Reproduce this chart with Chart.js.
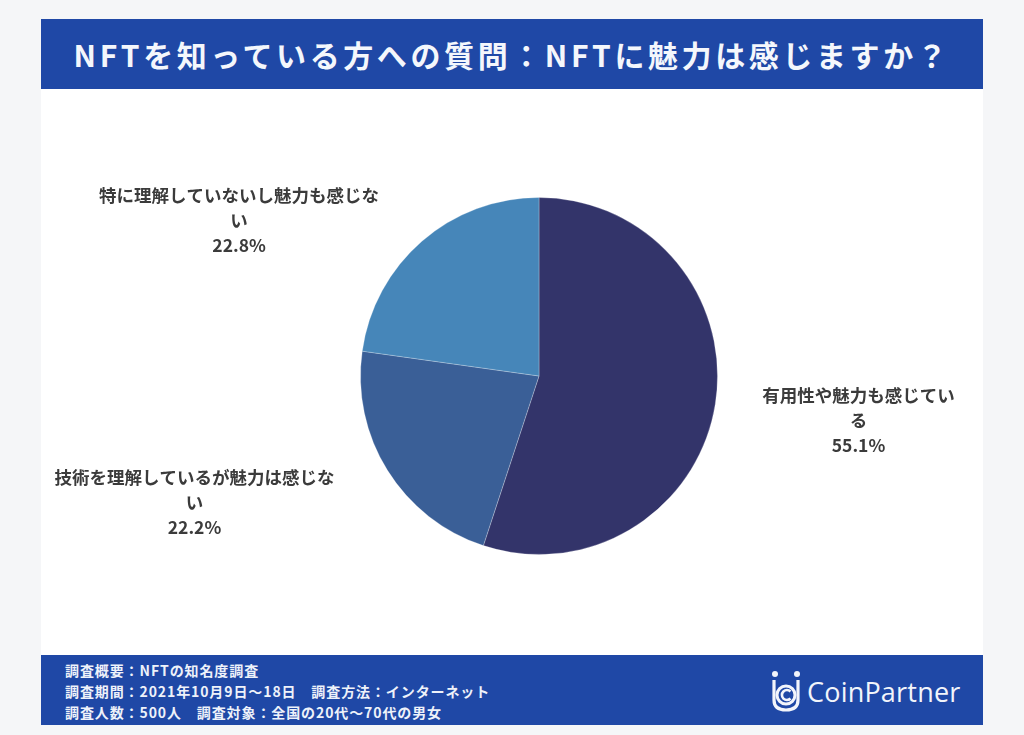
<!DOCTYPE html>
<html lang="ja">
<head>
<meta charset="utf-8">
<script src="https://cdn.jsdelivr.net/npm/chart.js@4/dist/chart.umd.min.js"></script>
<style>
  html, body { margin: 0; padding: 0; }
  body { width: 1024px; height: 735px; background: #f5f6f8; position: relative; overflow: hidden;
         font-family: "Noto Sans CJK JP", "Noto Sans", sans-serif; }
  #card { position: absolute; left: 41px; top: 19px; width: 942px; height: 706px; background: #ffffff; }
  #title { position: absolute; left: 0; top: 0; width: 942px; height: 70px; background: #1f48a6;
           color: #f4f7fc; font-weight: bold; font-size: 30px; letter-spacing: 3.6px;
           line-height: 70px; text-align: center; white-space: nowrap; }
  #chartBox { position: absolute; left: 0; top: 70px; width: 942px; height: 566px; }
  #footer { position: absolute; left: 0; top: 636px; width: 942px; height: 70px; background: #1f48a6; color: #eef2fa; }
  #notes { position: absolute; left: 24px; top: 5px; font-size: 14px; font-weight: bold; letter-spacing: 0.9px; line-height: 21px; white-space: pre; }
  #logo { position: absolute; left: 730px; top: 14px; height: 44px; display: flex; align-items: center; }
  #logo span { font-family: "Open Sans", "Noto Sans", sans-serif; font-size: 27px; color: #f2f5fb; margin-left: 6px; letter-spacing: 0.2px; }
</style>
</head>
<body>
<div id="card">
  <div id="title">NFTを知っている方への質問：NFTに魅力は感じますか？</div>
  <div id="chartBox"><canvas id="c" width="942" height="566"></canvas></div>
  <div id="footer">
    <div id="notes">調査概要：NFTの知名度調査
調査期間：2021年10月9日～18日　調査方法：インターネット
調査人数：500人　調査対象：全国の20代～70代の男女</div>
    <div id="logo">
      <svg width="30" height="42" viewBox="0 0 30 42">
        <circle cx="4" cy="4" r="3" fill="#f2f5fb"/>
        <circle cx="26" cy="4" r="3" fill="#f2f5fb"/>
        <path d="M3 10 L3 30 Q3 40 15 40 Q27 40 27 30 L27 10" fill="none" stroke="#f2f5fb" stroke-width="3.2"/>
        <circle cx="15" cy="25" r="9" fill="none" stroke="#f2f5fb" stroke-width="3"/>
        <path d="M19.5 21.5 A5 5 0 1 0 19.5 28.5" fill="none" stroke="#f2f5fb" stroke-width="2.6"/>
      </svg>
      <span>CoinPartner</span>
    </div>
  </div>
</div>
<script>
const categories = [
  "有用性や魅力も感じている",
  "技術を理解しているが魅力は感じない",
  "特に理解していないし魅力も感じない"
];
const values = [55.1, 22.2, 22.8];
const valueLabels = ["55.1%", "22.2%", "22.8%"];
const sliceColors = ["#33346a", "#3a5f97", "#4686b9"];

const labelPlugin = {
  id: "outsideLabels",
  afterDatasetsDraw(chart, args, opts) {
    const ctx = chart.ctx;
    const meta = chart.getDatasetMeta(0);
    ctx.save();
    ctx.font = opts.font;
    ctx.fillStyle = opts.color;
    ctx.textAlign = "center";
    ctx.textBaseline = "middle";
    meta.data.forEach((arc, i) => {
      const r = arc.outerRadius;
      const cx = arc.x + opts.offsets[i][0] * r;
      const cy = arc.y + opts.offsets[i][1] * r;
      const maxW = opts.maxWidths[i];
      const text = chart.data.labels[i];
      const lines = [];
      let cur = "";
      for (const ch of text) {
        if (ctx.measureText(cur + ch).width > maxW && cur) { lines.push(cur); cur = ch; }
        else cur += ch;
      }
      if (cur) lines.push(cur);
      lines.push(valueLabels[i]);
      const lh = opts.lineHeight;
      const y0 = cy - (lines.length - 1) * lh / 2;
      lines.forEach((ln, k) => ctx.fillText(ln, cx, y0 + k * lh));
    });
    ctx.restore();
  }
};

new Chart(document.getElementById("c"), {
  type: "pie",
  data: {
    labels: categories,
    datasets: [{
      data: values,
      backgroundColor: sliceColors,
      borderColor: "rgba(255,255,255,0.25)",
      borderWidth: 1
    }]
  },
  options: {
    responsive: false,
    devicePixelRatio: 1,
    animation: false,
    layout: { padding: { left: 319, right: 265, top: 108, bottom: 100 } },
    plugins: {
      legend: { display: false },
      tooltip: { enabled: false },
      outsideLabels: {
        font: "bold 17.5px 'Noto Sans CJK JP'",
        color: "#3b3b3b",
        lineHeight: 25,
        offsets: [[1.79, 0.25], [-1.93, 0.71], [-1.68, -0.87]],
        maxWidths: [205, 285, 285]
      }
    }
  },
  plugins: [labelPlugin]
});
</script>
</body>
</html>
